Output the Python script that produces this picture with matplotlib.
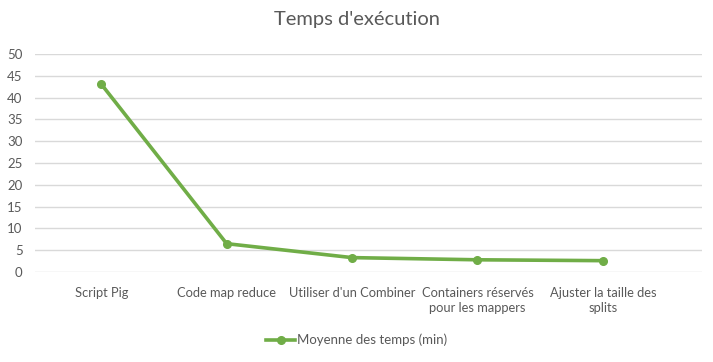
import matplotlib.pyplot as plt

categories = ["Script Pig", "Code map reduce", "Utiliser d'un Combiner",
              "Containers réservés\npour les mappers", "Ajuster la taille des\nsplits"]
temps = [43.1, 6.5, 3.3, 2.8, 2.6]
yticks = [0, 5, 10, 15, 20, 25, 30, 35, 40, 45, 50]

plt.rcParams['font.family'] = ['Lato', 'DejaVu Sans']
txt = '#595959'
green = '#70AD47'

fig = plt.figure(figsize=(7.13, 3.62), dpi=100)
ax = fig.add_axes([35 / 713, 90 / 362, 667 / 713, 218 / 362])

x = list(range(len(categories)))
ax.plot(x, temps, color=green, lw=2.6, marker='o', ms=5.5,
        solid_joinstyle='round', label='Moyenne des temps (min)')

ax.set_ylim(0, 50)
ax.set_xlim(-0.528, 4.79)
ax.set_yticks(yticks)
ax.set_xticks(x)
ax.set_xticklabels(categories, fontsize=9.3, color=txt, linespacing=1.3)
ax.tick_params(axis='y', labelsize=9.5, labelcolor=txt, length=0, pad=9)
ax.tick_params(axis='x', length=0, pad=11)
for lbl in ax.get_yticklabels():
    lbl.set_horizontalalignment('right')
ax.grid(axis='y', color='#D9D9D9', lw=1)
ax.set_axisbelow(True)
for s in ax.spines.values():
    s.set_visible(False)

fig.text(0.5, 1 - 20 / 362, "Temps d'exécution", ha='center', va='center',
         fontsize=14.5, color=txt)

leg = fig.legend(loc='center', bbox_to_anchor=(0.5, 1 - 340 / 362), frameon=False,
                 fontsize=9.5, handlelength=2.2, handletextpad=0.1)
for t in leg.get_texts():
    t.set_color(txt)

fig.savefig('out.png', dpi=100)
